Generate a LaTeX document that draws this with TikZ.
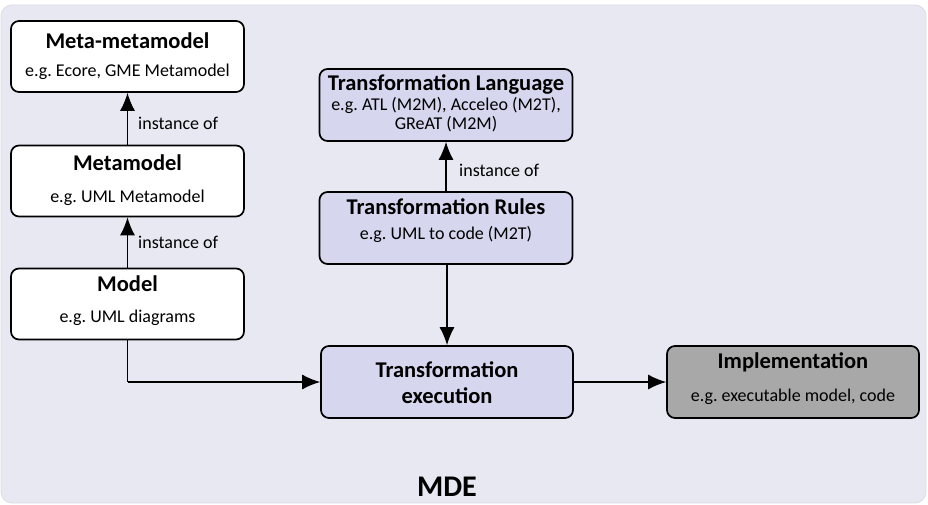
\documentclass[tikz,border=0pt]{standalone}
\usepackage{fontspec}
\setmainfont{Carlito}
\frenchspacing
\usetikzlibrary{arrows.meta}
\definecolor{bgfill}{HTML}{E8E8F2}
\definecolor{bgline}{HTML}{DCDCE6}
\definecolor{lavender}{HTML}{D6D6EE}
\definecolor{implgray}{HTML}{A8A8A8}
\begin{document}
\begin{tikzpicture}[x=1pt,y=-1pt,
  box/.style={draw=black, line width=1.7pt, rounded corners=8pt, inner sep=0pt},
  whitebox/.style={box, fill=white},
  lavbox/.style={box, fill=lavender},
  graybox/.style={box, fill=implgray},
  ttl/.style={font=\fontsize{22.5}{25}\selectfont\bfseries, inner sep=0pt},
  sub/.style={font=\fontsize{18}{21}\selectfont, inner sep=0pt},
  lbl/.style={font=\fontsize{18}{21}\selectfont, inner sep=0pt, anchor=west},
  conn/.style={line width=1.4pt, -{Latex[length=18pt,width=15pt]}},
  plain/.style={line width=1.4pt}]
\useasboundingbox (0,0) rectangle (928,505);
% background panel
\draw[fill=bgfill, draw=bgline, line width=0.8pt, rounded corners=11pt] (1,5) rectangle (926,503);

% left column: modelling stack
\node[whitebox, minimum width=233pt, minimum height=71pt] (mmm) at (127.5,56.5) {};
\node[ttl] (mmm-t) at (127.5,41) {Meta-metamodel};
\node[sub] (mmm-s) at (127.5,72) {e.g. Ecore, GME Metamodel};

\node[whitebox, minimum width=233pt, minimum height=71pt] (mm) at (127.5,181) {};
\node[ttl] (mm-t) at (127.5,163) {Metamodel};
\node[sub] (mm-s) at (127.5,198) {e.g. UML Metamodel};

\node[whitebox, minimum width=233pt, minimum height=71pt] (m) at (127.5,304) {};
\node[ttl] (m-t) at (127.5,284) {Model};
\node[sub] (m-s) at (127.5,318) {e.g. UML diagrams};

% middle column: transformation
\node[lavbox, minimum width=253pt, minimum height=72pt] (tl) at (446,105) {};
\node[ttl] (tl-t) at (446,84) {Transformation Language};
\node[sub] (tl-s1) at (446,105) {e.g. ATL (M2M), Acceleo (M2T),};
\node[sub] (tl-s2) at (446,124) {GReAT (M2M)};

\node[lavbox, minimum width=253pt, minimum height=72pt] (tr) at (446,228) {};
\node[ttl] (tr-t) at (446,207) {Transformation Rules};
\node[sub] (tr-s) at (446,234) {e.g. UML to code (M2T)};

\node[lavbox, minimum width=252pt, minimum height=72pt] (te) at (447,382) {};
\node[ttl] (te-t1) at (447,370) {Transformation};
\node[ttl] (te-t2) at (447,396) {execution};

% right: result
\node[graybox, minimum width=252pt, minimum height=72pt] (impl) at (793,382) {};
\node[ttl] (impl-t) at (793,362) {Implementation};
\node[sub] (impl-s) at (793,397) {e.g. executable model, code};

% connectors
\draw[conn] (mm.north) -- (mmm.south);
\node[lbl] (io1) at (138,123) {instance of};
\draw[conn] (m.north) -- (mm.south);
\node[lbl] (io2) at (138,242) {instance of};
\draw[conn] (tr.north) -- (tr.north |- tl.south);
\node[lbl] (io3) at (459,170) {instance of};
\draw[conn] (tr.south -| te.north) -- (te.north);
\coordinate (bend) at (m.south |- te.west);
\draw[plain] (m.south) -- (bend);
\draw[conn] (bend) -- (te.west);
\draw[conn] (te.east) -- (impl.west);

% panel caption
\node[font=\fontsize{30}{33}\selectfont\bfseries, inner sep=0pt] (mde) at (447,487) {MDE};
\end{tikzpicture}
\end{document}
